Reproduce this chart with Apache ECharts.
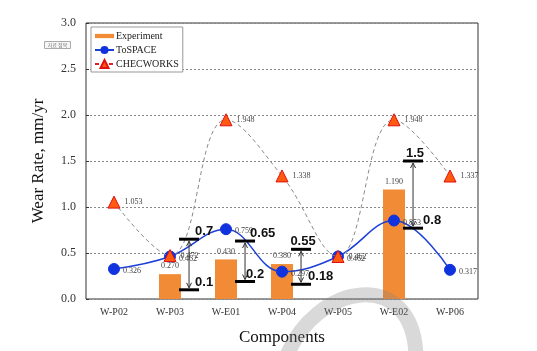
<!DOCTYPE html>
<html>
<head>
<meta charset="utf-8">
<script src="https://cdn.jsdelivr.net/npm/echarts@6/dist/echarts.min.js"></script>
<style>
  html, body { margin: 0; padding: 0; background: #fff; }
  #chart { width: 537px; height: 351px; }
</style>
</head>
<body>
<div id="chart"></div>
<script>
// values
const components = ['W-P02', 'W-P03', 'W-E01', 'W-P04', 'W-P05', 'W-E02', 'W-P06'];
const experiment = ['-', 0.270, 0.430, 0.380, '-', 1.190, '-'];
const tospace = [0.326, 0.462, 0.759, 0.297, 0.462, 0.853, 0.317];
const checworks = [1.053, 0.472, 1.948, 1.338, 0.462, 1.948, 1.337];

// measured range markers (black bars with arrow between them)
const rangeCats = [1, 2, 3, 5];
const rangeTop = [0.65, 0.63, 0.54, 1.50];
const rangeBottom = [0.10, 0.19, 0.16, 0.77];
const rangeTopText = ['0.7', '0.65', '0.55', '1.5'];
const rangeBottomText = ['0.1', '0.2', '0.18', '0.8'];

// label placement for the range markers (layout only)
const topTextDx = [6, 5, 2, 2];
const topTextAlign = ['left', 'left', 'center', 'center'];
const bottomTextDx = [6, 1, 7, 10];

const serif = '"Liberation Serif", "Times New Roman", serif';
const fmt3 = (p) => Number(p.value).toFixed(3);

const chart = echarts.init(document.getElementById('chart'));

const rangeData = rangeCats.map((c, i) => [c, rangeTop[i], rangeBottom[i]]);

function renderRange(params, api) {
  const i = params.dataIndex;
  const top = api.coord([api.value(0), api.value(1)]);
  const bot = api.coord([api.value(0), api.value(2)]);
  const band = api.size([1, 0])[0];
  const x = top[0] + band * 0.34;
  const half = 10;
  const ty = top[1], by = bot[1];
  return {
    type: 'group',
    children: [
      { type: 'line', shape: { x1: x, y1: ty + 2, x2: x, y2: by - 2 }, style: { stroke: '#333', lineWidth: 1 } },
      { type: 'polyline', shape: { points: [[x - 2.5, ty + 7], [x, ty + 2], [x + 2.5, ty + 7]] }, style: { stroke: '#333', fill: null, lineWidth: 1 } },
      { type: 'polyline', shape: { points: [[x - 2.5, by - 7], [x, by - 2], [x + 2.5, by - 7]] }, style: { stroke: '#333', fill: null, lineWidth: 1 } },
      { type: 'line', shape: { x1: x - half, y1: ty, x2: x + half, y2: ty }, style: { stroke: '#000', lineWidth: 3 } },
      { type: 'line', shape: { x1: x - half, y1: by, x2: x + half, y2: by }, style: { stroke: '#000', lineWidth: 3 } },
      {
        type: 'text', x: x + topTextDx[i], y: ty - 1,
        style: { text: rangeTopText[i], fill: '#111', font: 'bold 13px "Liberation Sans", Arial, sans-serif', textAlign: topTextAlign[i], textVerticalAlign: 'bottom' }
      },
      {
        type: 'text', x: x + bottomTextDx[i], y: by - 1,
        style: { text: rangeBottomText[i], fill: '#111', font: 'bold 13px "Liberation Sans", Arial, sans-serif', textAlign: 'left', textVerticalAlign: 'bottom' }
      }
    ]
  };
}

const option = {
  backgroundColor: '#fff',
  animation: false,
  grid: { left: 86, right: 59, top: 23, bottom: 48, show: true, borderColor: '#333', borderWidth: 1, backgroundColor: 'transparent' },
  legend: {
    orient: 'vertical',
    left: 91,
    top: 27,
    padding: [4, 4, 3, 3],
    itemGap: 4,
    itemWidth: 19,
    itemHeight: 10,
    backgroundColor: '#fff',
    borderColor: '#999',
    borderWidth: 1,
    textStyle: { fontFamily: serif, fontSize: 10, color: '#222', padding: [0, 0, 0, -3] },
    data: [
      { name: 'Experiment', icon: 'path://M0,0H40V9H0Z' },
      { name: 'ToSPACE' },
      { name: 'CHECWORKS', lineStyle: { color: '#e02020' } }
    ]
  },
  xAxis: {
    type: 'category',
    data: components,
    name: 'Components',
    nameLocation: 'middle',
    nameGap: 30,
    nameTextStyle: { fontFamily: serif, fontSize: 17, color: '#111' },
    axisLine: { show: false },
    axisTick: { show: false },
    axisLabel: { fontFamily: serif, fontSize: 10, color: '#333', margin: 8 }
  },
  yAxis: {
    type: 'value',
    min: 0,
    max: 3,
    interval: 0.5,
    name: 'Wear Rate, mm/yr',
    nameLocation: 'middle',
    nameGap: 39,
    nameTextStyle: { fontFamily: serif, fontSize: 17, color: '#111' },
    axisLine: { show: false },
    axisTick: { show: true, inside: true, length: 3, lineStyle: { color: '#333' } },
    axisLabel: { fontFamily: serif, fontSize: 12, color: '#333', margin: 10, formatter: (v) => v.toFixed(1) },
    splitLine: { show: true, lineStyle: { color: '#888', type: [2, 2], width: 1 } }
  },
  series: [
    {
      name: 'Experiment',
      type: 'bar',
      data: experiment,
      barWidth: 22,
      itemStyle: { color: '#f28b35' },
      label: { show: true, position: 'top', distance: 4, fontFamily: serif, fontSize: 8, color: '#444', formatter: fmt3 },
      z: 2
    },
    {
      name: 'ToSPACE',
      type: 'line',
      data: tospace,
      smooth: 0.4,
      symbol: 'circle',
      symbolSize: 11,
      lineStyle: { color: '#1c3fd8', width: 1.5 },
      itemStyle: { color: '#1133dd', borderColor: '#1133dd' },
      label: { show: true, position: 'right', distance: 3, offset: [0, 2], fontFamily: serif, fontSize: 8, color: '#444', formatter: fmt3 },
      z: 3
    },
    {
      name: 'CHECWORKS',
      type: 'line',
      data: checworks,
      smooth: 0.4,
      symbol: 'triangle',
      symbolSize: 12,
      lineStyle: { color: '#8a8a8a', width: 1, type: [4, 3] },
      itemStyle: { color: '#ff5a10', borderColor: '#e01010', borderWidth: 1 },
      label: { show: true, position: 'right', distance: 4, fontFamily: serif, fontSize: 8, color: '#444', formatter: fmt3 },
      z: 4
    },
    {
      name: 'range',
      type: 'custom',
      data: rangeData,
      renderItem: renderRange,
      z: 5,
      silent: true
    }
  ],
  graphic: [
    {
      type: 'group', left: 44, top: 41, z: 10,
      children: [
        { type: 'rect', shape: { x: 0, y: 0, width: 26, height: 7 }, style: { fill: '#f6f6f6', stroke: '#aaa', lineWidth: 1 } },
        { type: 'text', x: 13, y: 4, style: { text: '자료 정목', fill: '#777', font: '5px "Noto Sans CJK KR"', textAlign: 'center', textVerticalAlign: 'middle' } }
      ]
    },
    {
      type: 'bezierCurve', z: 20, silent: true,
      shape: { x1: 286, y1: 358, cpx1: 315, cpy1: 282, cpx2: 415, cpy2: 266, x2: 416, y2: 358 },
      style: { stroke: 'rgba(128,128,128,0.3)', lineWidth: 15, fill: null }
    }
  ]
};

chart.setOption(option);
</script>
</body>
</html>
